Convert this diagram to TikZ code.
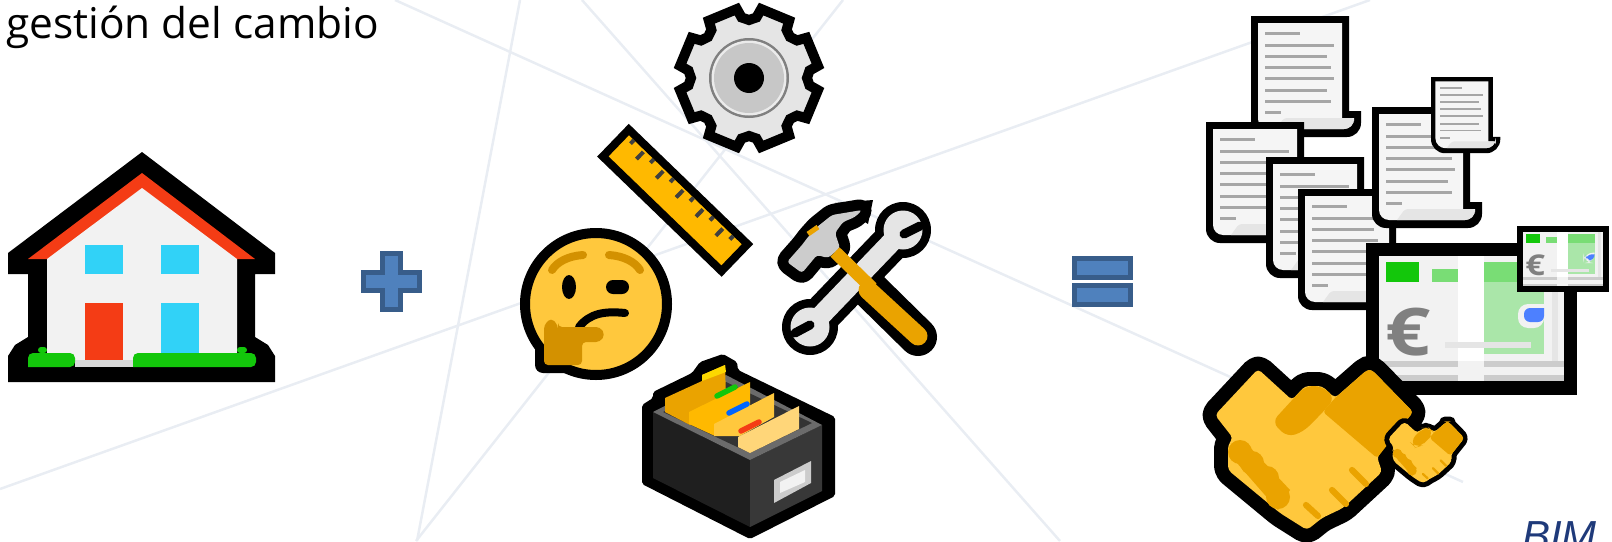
\documentclass[tikz,border=0pt]{standalone}
\usepackage{fontspec}
\setmainfont{Open Sans}
\newfontfamily\bimfont{Liberation Sans}
\usetikzlibrary{positioning}
\definecolor{bgblue}{HTML}{E9EDF3}
\definecolor{shapeblue}{HTML}{4F81BD}
\definecolor{shapeedge}{HTML}{385D8A}
\definecolor{wallgrey}{HTML}{F2F2F2}
\definecolor{roofred}{HTML}{F43C15}
\definecolor{lawn}{HTML}{13C70B}
\definecolor{windowblue}{HTML}{31D2F7}
\definecolor{emojigold}{HTML}{FFC83D}
\definecolor{emojiamber}{HTML}{EAA300}
\definecolor{rulergold}{HTML}{FFB900}
\definecolor{handbrown}{HTML}{D39100}
\definecolor{paleleaf}{HTML}{AAE6A9}
\definecolor{midleaf}{HTML}{79DD75}
\definecolor{tabblue}{HTML}{4D80FF}
\definecolor{cardpale}{HTML}{FFD679}
\definecolor{tabyellow}{HTML}{FCD800}
\definecolor{bimblue}{HTML}{1F3A7A}
\tikzset{
  bgline/.style={color=bgblue, line width=2.5pt},
  signshape/.style={fill=shapeblue, draw=shapeedge, line width=5pt},
  docline/.style={fill=black!35},
  pics/paperdoc/.style={code={
    \fill[black] (0,0) -- (98,0) -- (98,95) -- (110,95) [rounded corners=14] -- (110,121) -- (0,121) [sharp corners] -- (0,0) -- cycle;
    \fill[white!96!black] (7,7) -- (91,7) -- (91,102) -- (103,102) [rounded corners=10] -- (103,113) -- (7,113) [sharp corners] -- cycle;
    \fill[black!10, rounded corners=3] (25,113) -- (33,102) -- (103,102) [rounded corners=10] -- (103,113) [sharp corners] -- cycle;
    \foreach \y/\e in {17/49,29/83,40/76,51/79.5,62.5/83,74/76,85/79.5,96.5/30}
      \fill[docline] (14,\y-1.5) rectangle (\e,\y+1.5);
  }},
  pics/banknote/.style={code={
    \fill[black] (0,0) rectangle (211,152);
    \fill[wallgrey] (13,13) rectangle (198,138);
    \fill[paleleaf] (118,19) rectangle (178,111);
    \fill[midleaf] (118,19) rectangle (178,39);
    \fill[midleaf] (66,26) rectangle (92,39);
    \fill[lawn] (20,19) rectangle (53,39);
    \fill[black!10] (186,13) rectangle (192,118);
    \fill[white] (92,13) rectangle (118,118);
    \fill[wallgrey, rounded corners=10] (178,61) -- (152,61) -- (152,85) -- (178,85) [sharp corners] -- cycle;
    \fill[tabblue, rounded corners=6] (178,65) -- (158,65) -- (158,79) -- (178,79) [sharp corners] -- cycle;
    \fill[black!10] (79,99) rectangle (165,105);
    \fill[black!20] (13,118) rectangle (92,124);
    \fill[black!20] (118,118) rectangle (198,124);
    \fill[black!20] (13,132) rectangle (92,138);
    \fill[black!20] (118,132) rectangle (198,138);
    \node[transform shape, xscale=1.2, text=black!50, font=\fontsize{66}{66}\selectfont\bfseries, inner sep=0pt] (-euro) at (42,89) {€};
  }},
  pics/handshake/.style={code={
    \filldraw[emojigold, draw=black, line width=#1*1pt, line join=round, rounded corners=4] (68,19) -- (102,50) -- (115,36) -- (132,36) -- (145,48) -- (177,20) -- (182,20) -- (223,62) -- (187,107) -- (192,122) -- (153,158) -- (132,168) -- (117,180) -- (90,163) -- (38,120) -- (38,95) -- (43,88) -- (25,65) -- cycle;
    \fill[emojigold, rounded corners=4] (68,19) -- (102,50) -- (115,36) -- (132,36) -- (145,48) -- (177,20) -- (182,20) -- (223,62) -- (187,107) -- (192,122) -- (153,158) -- (132,168) -- (117,180) -- (90,163) -- (38,120) -- (38,95) -- (43,88) -- (25,65) -- cycle;
    \fill[emojiamber, rounded corners=3] (145,48) -- (177,20) -- (182,20) -- (223,62) -- (187,108) -- (133,62) -- cycle;
    \fill[emojiamber, rounded corners=8] (82,72) -- (115,36) -- (132,36) -- (145,48) -- (133,62) -- (113,82) -- (97,87) -- cycle;
    \fill[emojiamber] (40,105) -- (55,92) -- (100,140) -- (88,160) -- cycle;
    \foreach \cx/\cy in {50/102,62/113,77/128,88/147}
      \fill[emojiamber] (\cx,\cy) circle[radius=12];
    \draw[emojiamber, line width=#1*.22pt, line cap=round] (162,120) -- (176,134);
    \draw[emojiamber, line width=#1*.22pt, line cap=round] (142,140) -- (156,154);
    \draw[emojiamber, line width=#1*.22pt, line cap=round] (116,155) -- (128,166);
  }}
}
\begin{document}
\begin{tikzpicture}[x=1pt, y=-1pt]
\useasboundingbox (0,0) rectangle (1612,541);

% lines behind everything
\draw[bgline] (395,0) to (1463,482);
\draw[bgline] (0,489) to (1370,0);
\draw[bgline] (520,0) to (417,541);
\draw[bgline] (582,0) to (1060,541);
\draw[bgline] (843,0) to (416,541);

\node[anchor=base west, inner sep=0pt, font=\fontsize{42.4}{42.4}\selectfont] (title) at (6,38) {gestión del cambio};

% house
\fill[black] (142,152) -- (275,253) -- (275,274) -- (255,274) -- (255,337) -- (268,345) -- (275,356) -- (275,382) -- (8,382) -- (8,356) -- (15,345) -- (28,337) -- (28,274) -- (8,274) -- (8,253) -- cycle;
\fill[roofred] (28,259) -- (142,173) -- (255,259) -- cycle;
\fill[wallgrey] (47,259) -- (142,188) -- (237,259) -- (237,360) -- (47,360) -- cycle;
\fill[black!15] (75,360) rectangle (133,367);
\fill[lawn, rounded corners=3] (38,353) -- (38,347) -- (47,347) -- (47,353) -- cycle;
\fill[lawn, rounded corners=3] (237,353) -- (237,347) -- (247,347) -- (247,353) -- cycle;
\fill[lawn, rounded corners=5] (28,367) -- (28,353) -- (75,353) -- (75,367) [sharp corners] -- cycle;
\fill[lawn, rounded corners=5] (133,367) -- (133,353) -- (256,353) -- (256,367) [sharp corners] -- cycle;
\fill[windowblue] (85,245) rectangle (123,274);
\fill[windowblue] (161,245) rectangle (199,274);
\fill[roofred] (85,303) rectangle (123,360);
\fill[windowblue] (161,303) rectangle (199,353);

% plus
\filldraw[signshape] (382.5,253.5) -- (400.5,253.5) -- (400.5,272.5) -- (419.5,272.5) -- (419.5,290.5) -- (400.5,290.5) -- (400.5,309.5) -- (382.5,309.5) -- (382.5,290.5) -- (363.5,290.5) -- (363.5,272.5) -- (382.5,272.5) -- cycle;

% equals
\filldraw[signshape] (1074.5,258.5) rectangle (1130.5,277.5);
\filldraw[signshape] (1074.5,285.5) rectangle (1130.5,304.5);

% gear
\begin{scope}[shift={(749,78)}]
  \filldraw[fill=black!10, draw=black, line width=10pt, line join=miter] (0:58)
    \foreach \k in {0,45,...,315} { -- (\k:58) -- (\k+7:61) -- (\k+10:70) -- (\k+35:70) -- (\k+38:61)} -- cycle;
  \fill[black!50] (0,0) circle[radius=40];
  \fill[black!8] (0,0) circle[radius=37.5];
  \fill[black!22] (0,0) circle[radius=35];
  \fill[black] (0,0) circle[radius=15];
\end{scope}

% ruler
\begin{scope}[shift={(629,138)}, rotate=-44]
  \filldraw[fill=rulergold, draw=black, line width=8pt] (-6,-6) rectangle (159,31.5);
  \foreach \n in {0,...,5}
    \draw[black!75, line width=4pt] (5+27.6*\n,-2) -- (5+27.6*\n,3);
  \foreach \n in {0,...,4}
    \draw[black!75, line width=4pt] (20+27.6*\n,0) -- (20+27.6*\n,10);
\end{scope}

% thinking face
\fill[black, rounded corners=8] (535,340) -- (535,373) -- (590,373) -- (590,340) -- cycle;
\filldraw[fill=emojigold, draw=black, line width=10pt] (596,304) circle[radius=71];
\draw[handbrown, line width=8pt, line cap=round] (552,270) .. controls (557,262) and (568,256) .. (583,255);
\draw[handbrown, line width=8pt, line cap=round] (640,270) .. controls (635,262) and (624,256) .. (609,255);
\fill[black] (569,287) ellipse[x radius=7, y radius=12];
\fill[black, rounded corners=7] (606,280) rectangle (629,294);
\draw[black, line width=8pt, line cap=round] (579,327) .. controls (590,313) and (605,311) .. (625,313);
\fill[handbrown, rounded corners=4] (544,365) -- (544,325) -- (551,318) -- (558,325) -- (558,327) -- (600,327) -- (605,334.5) -- (600,342) -- (582,342) -- (582,365) -- cycle;

% card file box
\fill[black, rounded corners=2] (642,405) -- (653,398) -- (653,392) -- (692,373) -- (700,362) -- (723,354) -- (737,362) -- (738,370) -- (835,417) -- (835,496) -- (750,539) -- (642,484) -- cycle;
\fill[black!88] (653,412) -- (750,460) -- (750,527) -- (653,478) -- cycle;
\fill[black!78] (750,460) -- (822,425) -- (822,491) -- (750,527) -- cycle;
\fill[black!58] (653,412) -- (726,375) -- (822,425) -- (750,460) -- cycle;
\fill[black!80] (663,412) -- (726,382) -- (812,423) -- (750,453) -- cycle;
\fill[emojiamber] (665,398) -- (702,381) -- (702,375) -- (725,365) -- (726,397) -- (690,425) -- (665,412) -- cycle;
\fill[tabyellow] (702,381) -- (702,375) -- (725,365) -- (726,372) -- cycle;
\fill[rulergold] (689,412) -- (750,382) -- (750,417) -- (715,436) -- (689,424) -- cycle;
\draw[lawn, line width=5.5pt, line cap=round] (717,396) -- (735,387);
\fill[emojigold] (714,424) -- (774,393) -- (774,417) -- (740,436) -- (714,436) -- cycle;
\draw[blue!60!cyan, line width=5.5pt, line cap=round] (729,413) -- (747,404);
\fill[cardpale] (738,437) -- (799,406) -- (799,429) -- (750,453) -- (738,447) -- cycle;
\draw[roofred, line width=5.5pt, line cap=round] (741,431) -- (759,422);
\fill[black!20] (774,480) -- (811,461) -- (811,483) -- (774,503) -- cycle;
\fill[wallgrey] (780,482) -- (805,470) -- (805,482) -- (780,493) -- cycle;

% tools
\draw[black, line width=38pt] (810,327) -- (903,230);
\fill[black] (903,230) circle[radius=28];
\fill[black] (810,327) circle[radius=28];
\draw[black, line width=38pt, line cap=round] (860,280) -- (918,337);
\draw[black!10, line width=20pt] (810,327) -- (903,230);
\fill[black!10] (903,230) circle[radius=19.5];
\fill[black!10] (810,327) circle[radius=19.5];
\draw[black, line width=9pt, line cap=round] (904,234) -- (920,226);
\draw[black, line width=9pt, line cap=round] (810,325) -- (795,333);
\draw[black, line width=22pt, line join=round, rounded corners=3] (787,262) -- (802,245) -- (808,237) -- (817,227) -- (832,215) -- (862,210) -- (855,217) -- (843,222) -- (835,233) -- (840,248) -- (828,258) -- (817,255) -- (802,273) -- cycle;
\fill[black] (873,200) -- (835,203) -- (868,224) -- cycle;
\fill[black!20, rounded corners=3] (787,262) -- (802,245) -- (808,237) -- (817,227) -- (832,215) -- (862,210) -- (855,217) -- (843,222) -- (835,233) -- (840,248) -- (828,258) -- (817,255) -- (802,273) -- cycle;
\draw[emojiamber, line width=5pt] (808,234) -- (818,227);
\draw[emojiamber, line width=13pt] (835,252) -- (872,288);
\draw[emojiamber, line width=19pt, line cap=round] (868,290) -- (918,336);

% paper stack
\pic at (1251,16) {paperdoc};
\pic at (1206,122) {paperdoc};
\pic at (1266,157) {paperdoc};
\pic at (1298,189) {paperdoc};
\pic at (1372,107) {paperdoc};
\pic[scale=.63] at (1431,77) {paperdoc};

% notes
\pic (noteA) at (1366,243) {banknote};
\pic (noteB)[scale=.436] at (1517,226) {banknote};

% hands
\pic at (1190,350) {handshake=28};
\pic[scale=.387] at (1378,414) {handshake=10};

\node[anchor=base west, inner sep=0pt, text=bimblue, font=\bimfont\fontsize{42}{42}\selectfont\itshape] (bim) at (1522,550) {BIM};
\end{tikzpicture}
\end{document}
